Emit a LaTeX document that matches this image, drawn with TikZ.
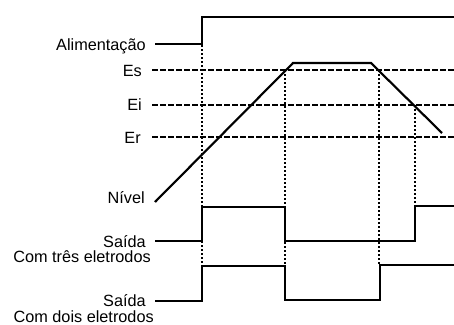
\documentclass[tikz,border=0pt]{standalone}
\usepackage{fontspec}
\setmainfont{Liberation Sans}
\usepackage{tikz}
\usetikzlibrary{positioning, calc}

\begin{document}
\begin{tikzpicture}[
  x=0.75pt, y=-0.75pt,
  lbl/.style={anchor=base east, inner sep=0pt, font=\fontsize{12.2}{14}\selectfont},
  sig/.style={line width=1.6pt, line join=miter},
  level/.style={line width=1.6pt, dash pattern=on 4.2pt off 1.8pt},
  mark line/.style={line width=1.6pt, dash pattern=on 1.5pt off 1.5pt}
]
  \useasboundingbox (0,0) rectangle (454,325);

  \node[lbl] (alim) at (146,50.5) {Alimentação};
  \node[lbl] (es) at (142,76) {Es};
  \node[lbl] (ei) at (142,110.5) {Ei};
  \node[lbl] (er) at (141,143) {Er};
  \node[lbl] (nivel) at (145,203) {Nível};
  \node[lbl] (saida3) at (146,247) {Saída};
  \node[lbl] (com3) at (151,262.5) {Com três eletrodos};
  \node[lbl] (saida2) at (146,306) {Saída};
  \node[lbl] (com2) at (154,322) {Com dois eletrodos};

  \draw[mark line] (202,45) -- (202,265);
  \draw[mark line] (285,70) -- (285,265);
  \draw[mark line] (379,70) -- (379,265);
  \draw[mark line] (415,105) -- (415,206);

  \draw[level] (152,70) -- (454,70);
  \draw[level] (152,105) -- (454,105);
  \draw[level] (152,137) -- (454,137);

  \draw[sig] (155,44) -- (202,44) -- (202,17) -- (454,17);
  \draw[sig] (155,202) -- (293,63) -- (371,63) -- (442,133);
  \draw[sig] (155,241) -- (202,241) -- (202,207) -- (285,207) -- (285,241)
    -- (415,241) -- (415,206) -- (454,206);
  \draw[sig] (155,301) -- (202,301) -- (202,266) -- (285,266) -- (285,300)
    -- (380,300) -- (380,265) -- (454,265);
\end{tikzpicture}
\end{document}
